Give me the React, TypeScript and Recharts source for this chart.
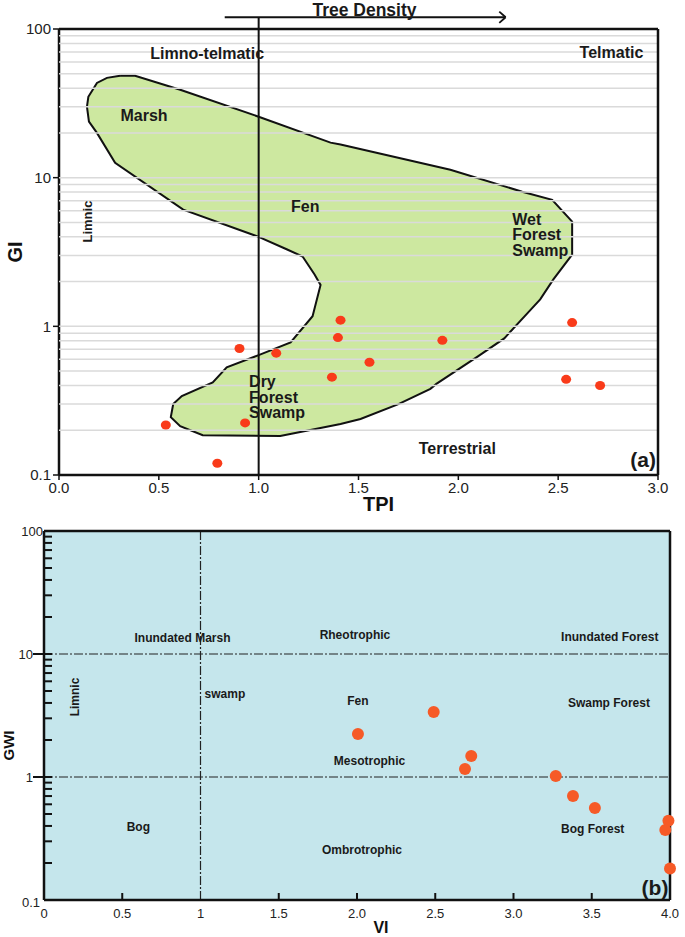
import React from 'react';
import { ScatterChart, Scatter, XAxis, YAxis, ReferenceLine, ReferenceDot, CartesianGrid } from 'recharts';

const FONT = '"Liberation Sans", Arial, Helvetica, sans-serif';

// ---------- Panel (a): TPI vs GI ----------
const tpiValues = [0.535, 0.793, 0.904, 1.088, 0.932, 1.367, 1.397, 1.41, 1.555, 1.92, 2.57, 2.54, 2.71];
const giValues = [0.217, 0.12, 0.71, 0.66, 0.224, 0.455, 0.84, 1.1, 0.573, 0.805, 1.06, 0.44, 0.4];

const zoneTpi = [0.306, 0.381, 0.607, 1.0, 1.36, 1.41, 1.96, 2.32, 2.47, 2.57, 2.57, 2.476, 2.41, 2.35, 2.23, 2.1, 1.89, 1.86, 1.7, 1.51, 1.41, 1.108, 0.72, 0.607, 0.56, 0.572, 0.615, 0.77, 0.84, 1.0, 1.16, 1.27, 1.31, 1.28, 1.22, 1.14, 1.0, 0.622, 0.281, 0.19, 0.15, 0.14, 0.147, 0.19, 0.24, 0.306];
const zoneGi = [48.4, 48.4, 39, 25.7, 17.2, 16.7, 11.3, 8.05, 7.1, 5.07, 3.04, 2.07, 1.52, 1.24, 0.83, 0.63, 0.41, 0.38, 0.3, 0.238, 0.22, 0.183, 0.185, 0.213, 0.245, 0.3, 0.34, 0.42, 0.53, 0.64, 0.78, 1.17, 1.9, 2.23, 2.95, 3.3, 4.0, 6.1, 12.6, 20, 23.8, 30, 35, 43.4, 46.9, 48.4];

const tpiTicks = [0, 0.5, 1, 1.5, 2, 2.5, 3];
const giTicks = [0.1, 1, 10, 100];
const giGridValues = [0.2, 0.3, 0.4, 0.5, 0.6, 0.7, 0.8, 0.9, 1, 2, 3, 4, 5, 6, 7, 8, 9, 10, 20, 30, 40, 50, 60, 70, 80, 90];

// ---------- Panel (b): VI vs GWI ----------
const viValues = [2.49, 2.006, 2.73, 2.69, 3.27, 3.38, 3.52, 3.99, 3.97, 4.0];
const gwiValues = [3.38, 2.24, 1.48, 1.16, 1.02, 0.7, 0.56, 0.44, 0.37, 0.18];

const viTicks = [0, 0.5, 1, 1.5, 2, 2.5, 3, 3.5, 4];
const viTickLabels = ['0', '0.5', '1', '1.5', '2.0', '2.5', '3.0', '3.5', '4.0'];
const gwiTicks = [0.1, 0.2, 0.3, 0.4, 0.5, 0.6, 0.7, 0.8, 0.9, 1, 2, 3, 4, 5, 6, 7, 8, 9, 10, 20, 30, 40, 50, 60, 70, 80, 90, 100];
const gwiMajorTicks = [0.1, 1, 10, 100];

type Ann = { x: number; y: number; lines: string[]; anchor?: 'start' | 'middle' | 'end'; rotate?: boolean; size?: number };

const annotationsA: Ann[] = [
  { x: 0.742, y: 69, lines: ['Limno-telmatic'] },
  { x: 2.767, y: 70, lines: ['Telmatic'] },
  { x: 0.426, y: 26.1, lines: ['Marsh'] },
  { x: 1.233, y: 6.39, lines: ['Fen'] },
  { x: 0.145, y: 5.07, lines: ['Limnic'], rotate: true, size: 13 },
  { x: 2.27, y: 4.14, lines: ['Wet', 'Forest', 'Swamp'], anchor: 'start' },
  { x: 0.952, y: 0.334, lines: ['Dry', 'Forest', 'Swamp'], anchor: 'start' },
  { x: 1.995, y: 0.152, lines: ['Terrestrial'] },
  { x: 2.99, y: 0.126, lines: ['(a)'], anchor: 'end', size: 21 },
  { x: 1.53, y: 135, lines: ['Tree Density'], size: 17.5 },
];

const annotationsB: Ann[] = [
  { x: 0.885, y: 13.5, lines: ['Inundated Marsh'] },
  { x: 1.987, y: 14.3, lines: ['Rheotrophic'] },
  { x: 3.615, y: 13.7, lines: ['Inundated Forest'] },
  { x: 0.199, y: 4.47, lines: ['Limnic'], rotate: true },
  { x: 1.026, y: 4.73, lines: ['swamp'], anchor: 'start' },
  { x: 2.006, y: 4.15, lines: ['Fen'] },
  { x: 3.61, y: 4.0, lines: ['Swamp Forest'] },
  { x: 2.08, y: 1.35, lines: ['Mesotrophic'] },
  { x: 0.603, y: 0.392, lines: ['Bog'] },
  { x: 2.032, y: 0.255, lines: ['Ombrotrophic'] },
  { x: 3.506, y: 0.378, lines: ['Bog Forest'] },
  { x: 3.99, y: 0.125, lines: ['(b)'], anchor: 'end', size: 21 },
];

const pointsA = tpiValues.map((x, i) => ({ x, y: giValues[i] }));
const zoneA = zoneTpi.map((x, i) => ({ x, y: zoneGi[i] }));
const pointsB = viValues.map((x, i) => ({ x, y: gwiValues[i] }));

const annShape = (a: Ann, fontSize: number, lineHeight: number) => (props: any) => {
  const { cx, cy } = props;
  if (cx == null || cy == null) return <g />;
  const n = a.lines.length;
  return (
    <text
      x={cx}
      y={cy}
      textAnchor={a.anchor ?? 'middle'}
      fontFamily={FONT}
      fontWeight="bold"
      fontSize={a.size ?? fontSize}
      fill="#1a1a1a"
      transform={a.rotate ? `rotate(-90 ${cx} ${cy})` : undefined}
    >
      {a.lines.map((l, i) => (
        <tspan key={i} x={cx} y={cy + (i - (n - 1) / 2) * lineHeight} dy="0.35em">
          {l}
        </tspan>
      ))}
    </text>
  );
};

const PanelA = () => (
  <ScatterChart width={685} height={515} margin={{ top: 29, right: 27, bottom: 0, left: 0 }}>
    <XAxis
      type="number"
      dataKey="x"
      domain={[0, 3]}
      ticks={tpiTicks}
      interval={0}
      tickFormatter={(v: number) => v.toFixed(1)}
      height={40}
      axisLine={{ stroke: '#111', strokeWidth: 2.5 }}
      tickLine={{ stroke: '#111', strokeWidth: 1.5 }}
      tickSize={5}
      tickMargin={2}
      tick={{ fontSize: 15, fill: '#222', fontFamily: FONT }}
      label={{
        content: (p: any) => {
          const vb = p.viewBox || {};
          return (
            <text x={vb.x + vb.width / 2 + 20} y={vb.y + 29} textAnchor="middle" dy="0.35em" fontFamily={FONT} fontWeight="bold" fontSize={20} fill="#111">
              TPI
            </text>
          );
        },
      }}
    />
    <YAxis
      type="number"
      dataKey="y"
      scale="log"
      domain={[0.1, 100]}
      ticks={giTicks}
      interval={0}
      tickFormatter={(v: number) => String(v)}
      width={59}
      axisLine={{ stroke: '#111', strokeWidth: 2.5 }}
      tickLine={{ stroke: '#111', strokeWidth: 1.5 }}
      tickSize={6}
      tickMargin={2}
      tick={{ fontSize: 15, fill: '#222', fontFamily: FONT }}
      label={{
        content: (p: any) => {
          const vb = p.viewBox || {};
          const cx = vb.x + 15;
          const cy = vb.y + vb.height / 2;
          return (
            <text x={cx} y={cy} textAnchor="middle" dy="0.35em" transform={`rotate(-90 ${cx} ${cy})`} fontFamily={FONT} fontWeight="bold" fontSize={20} fill="#111">
              GI
            </text>
          );
        },
      }}
    />
    <Scatter
      data={zoneA}
      isAnimationActive={false}
      shape={() => <g />}
      line={{ stroke: '#111', strokeWidth: 2, fill: '#cde8a0' }}
      lineType="joint"
      legendType="none"
    />
    {giGridValues.map((v) => (
      <ReferenceLine key={`g${v}`} y={v} stroke="#dadada" strokeWidth={1.5} zIndex={650} />
    ))}
    <ReferenceLine segment={[{ x: 1, y: 0.1 }, { x: 1, y: 120 }]} stroke="#111" strokeWidth={2} ifOverflow="visible" zIndex={660} />
    <ReferenceLine y={100} stroke="#111" strokeWidth={2.5} zIndex={660} />
    <ReferenceLine x={3} stroke="#111" strokeWidth={2.5} zIndex={660} />
    <ReferenceLine segment={[{ x: 0.83, y: 120 }, { x: 2.235, y: 120 }]} stroke="#111" strokeWidth={1.8} ifOverflow="visible" />
    <ReferenceLine segment={[{ x: 2.205, y: 131 }, { x: 2.237, y: 120 }]} stroke="#111" strokeWidth={1.8} ifOverflow="visible" />
    <ReferenceLine segment={[{ x: 2.205, y: 110 }, { x: 2.237, y: 120 }]} stroke="#111" strokeWidth={1.8} ifOverflow="visible" />
    {annotationsA.map((a, i) => (
      <ReferenceDot key={`a${i}`} x={a.x} y={a.y} r={0} ifOverflow="visible" shape={annShape(a, 16, 15.5)} zIndex={700} />
    ))}
    <Scatter
      data={pointsA}
      isAnimationActive={false}
      fill="#f93b1a"
      zIndex={720}
      shape={(p: any) => <ellipse cx={p.cx} cy={p.cy} rx={5} ry={4.5} fill="#f93b1a" />}
    />
  </ScatterChart>
);

const GwiTick = (props: any) => {
  const { x, y, payload } = props;
  const v = payload.value;
  if (gwiMajorTicks.includes(v)) {
    const hasOut = v === 10 || v === 1;
    return (
      <g>
        {hasOut && <line x1={x - 11} x2={x} y1={y} y2={y} stroke="#111" strokeWidth={2} />}
        {hasOut && <line x1={x} x2={x + 8} y1={y} y2={y} stroke="#111" strokeWidth={2} />}
        <text x={hasOut ? x - 11 : v === 0.1 ? x - 4 : x - 1} y={v === 0.1 ? y + 2 : y} dy="0.35em" textAnchor="end" fontFamily={FONT} fontSize={13} fill="#222">
          {String(v)}
        </text>
      </g>
    );
  }
  return <line x1={x} x2={x + 8} y1={y} y2={y} stroke="#111" strokeWidth={2} />;
};

const ViTick = (props: any) => {
  const { x, y, payload } = props;
  const v = payload.value;
  const inward = v !== 0 && v !== 1 && v !== 4;
  return (
    <g>
      {inward && <line x1={x} x2={x} y1={y} y2={y - 7} stroke="#111" strokeWidth={2} />}
      <text x={x} y={y + 13} dy="0.35em" textAnchor="middle" fontFamily={FONT} fontSize={13} fill="#222">
        {viTickLabels[viTicks.indexOf(v)] ?? String(v)}
      </text>
    </g>
  );
};

const PanelB = () => (
  <ScatterChart width={685} height={422} margin={{ top: 16, right: 15, bottom: 0, left: 0 }}>
    <CartesianGrid horizontal={false} vertical={false} fill="#c5e6ec" fillOpacity={1} />
    <XAxis
      type="number"
      dataKey="x"
      domain={[0, 4]}
      ticks={viTicks}
      interval={0}
      height={37}
      axisLine={{ stroke: '#111', strokeWidth: 2.5 }}
      tickLine={false}
      tickSize={0}
      tickMargin={0}
      tick={<ViTick />}
      label={{
        content: (p: any) => {
          const vb = p.viewBox || {};
          return (
            <text x={vb.x + vb.width / 2 + 24} y={vb.y + 27} textAnchor="middle" dy="0.35em" fontFamily={FONT} fontWeight="bold" fontSize={16} fill="#111">
              VI
            </text>
          );
        },
      }}
    />
    <YAxis
      type="number"
      dataKey="y"
      scale="log"
      domain={[0.1, 100]}
      ticks={gwiTicks}
      interval={0}
      width={44}
      axisLine={{ stroke: '#111', strokeWidth: 2.5 }}
      tickLine={false}
      tickSize={0}
      tickMargin={0}
      tick={<GwiTick />}
      label={{
        content: (p: any) => {
          const vb = p.viewBox || {};
          const cx = vb.x + 9;
          const cy = vb.y + vb.height / 2 + 30;
          return (
            <text x={cx} y={cy} textAnchor="middle" dy="0.35em" transform={`rotate(-90 ${cx} ${cy})`} fontFamily={FONT} fontWeight="bold" fontSize={15} fill="#111">
              GWI
            </text>
          );
        },
      }}
    />
    <ReferenceLine y={10} stroke="#222" strokeWidth={1.2} strokeDasharray="9 2 2 2" />
    <ReferenceLine y={1} stroke="#222" strokeWidth={1.2} strokeDasharray="9 2 2 2" />
    <ReferenceLine x={1} stroke="#222" strokeWidth={1.2} strokeDasharray="9 2 2 2" />
    <ReferenceLine y={100} stroke="#111" strokeWidth={2.5} />
    <ReferenceLine x={4} stroke="#111" strokeWidth={2.5} />
    {annotationsB.map((a, i) => (
      <ReferenceDot key={`b${i}`} x={a.x} y={a.y} r={0} ifOverflow="visible" shape={annShape(a, 12, 14)} />
    ))}
    <Scatter
      data={pointsB}
      isAnimationActive={false}
      fill="#f65a27"
      shape={(p: any) => <circle cx={p.cx} cy={p.cy} r={6} fill="#f65a27" />}
    />
  </ScatterChart>
);

export default function App() {
  return (
    <div style={{ position: 'absolute', left: 0, top: 0, width: 685, height: 937, background: '#fff' }}>
      <PanelA />
      <PanelB />
    </div>
  );
}
